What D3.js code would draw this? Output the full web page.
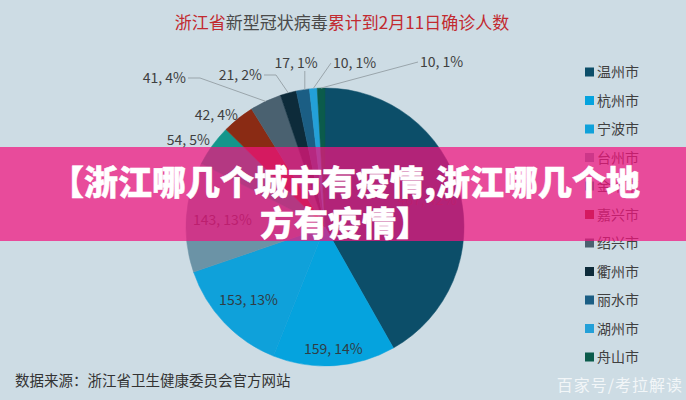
<!DOCTYPE html>
<html><head><meta charset="utf-8">
<script src="https://cdn.jsdelivr.net/npm/d3@7/dist/d3.min.js"></script>
<style>
html,body{margin:0;padding:0;background:#cddce4;}
svg{display:block;}
text{font-family:"Noto Sans CJK SC","Noto Sans",sans-serif;}
</style></head><body>
<svg id="c" width="686" height="400"></svg>
<script>
const cities   = ["温州市","杭州市","宁波市","台州市","金华市","嘉兴市","绍兴市","衢州市","丽水市","湖州市","舟山市"];
const cases    = [467,159,153,143,54,42,41,21,17,10,10];
const percents = [42,14,13,13,5,4,4,2,1,1,1];
const colors   = ["#0c4e69","#05a3de","#0fa1da","#6b93a6","#13968b","#8a2b14","#4a6170","#0d2b3a","#1b5e84","#23a0d8","#0b5b4b"];
const titleParts = [["浙江省","#c22a30"],["新型冠状病毒","#4a4a4a"],["累计到2月11日确诊人数","#c22a30"]];
const sourceText = "数据来源：浙江省卫生健康委员会官方网站";
const bannerLines = ["【浙江哪几个城市有疫情,浙江哪几个地","方有疫情】"];
const watermark = "百家号/考拉解读";

const outsideLayout = {
  "舟山市": {lx: 420, ly: 62, anchor: "start", line: "direct"},
  "湖州市": {lx: 333, ly: 63, anchor: "start", line: "direct"},
  "丽水市": {lx: 296, ly: 63, anchor: "middle", line: "vertical"},
  "衢州市": {lx: 262, ly: 75, anchor: "end", line: "elbow"},
  "绍兴市": {lx: 186, ly: 78, anchor: "end", line: "elbow"},
  "嘉兴市": {lx: 238, ly: 115, anchor: "end", line: "none"},
  "金华市": {lx: 210, ly: 140, anchor: "end", line: "none"}
};
const insideRadius = {"温州市":0.76,"杭州市":0.88,"宁波市":0.76,"台州市":0.74};

const svg = d3.select("#c");
const W = 686, H = 400;
const cx = 325, cy = 227, R = 139;

const title = svg.append("text").attr("x", 342).attr("y", 29).attr("text-anchor","middle")
  .attr("font-size", 17);
titleParts.forEach(([t,c]) => title.append("tspan").attr("fill", c).text(t));

const data = cities.map((c,i)=>({city:c, value:cases[i], pct:percents[i], color:colors[i]}));
const pie = d3.pie().sort(null).value(d=>d.value).startAngle(0).endAngle(2*Math.PI);
const arcs = pie(data);
const arc = d3.arc().innerRadius(0).outerRadius(R);

const g = svg.append("g").attr("transform", `translate(${cx},${cy})`);
g.selectAll("path").data(arcs).join("path")
  .attr("d", arc).attr("fill", d=>d.data.color)
  .attr("stroke", d=>d.data.color).attr("stroke-width", 0.5);

const fmt = d => `${d.data.value}, ${d.data.pct}%`;

arcs.filter(d=>insideRadius[d.data.city]).forEach(d=>{
  const a = (d.startAngle+d.endAngle)/2, r = R*insideRadius[d.data.city];
  g.append("text").attr("x", Math.sin(a)*r).attr("y", -Math.cos(a)*r+5)
    .attr("text-anchor","middle").attr("font-size",14).attr("fill","#2f3d46").text(fmt(d));
});

arcs.filter(d=>outsideLayout[d.data.city]).forEach(d=>{
  const L = outsideLayout[d.data.city];
  const a = (d.startAngle+d.endAngle)/2;
  const ex = cx + Math.sin(a)*R, ey = cy - Math.cos(a)*R;
  svg.append("text").attr("x", L.lx).attr("y", L.ly+5).attr("text-anchor", L.anchor)
    .attr("font-size",14).attr("fill","#404040").text(fmt(d));
  let pts = null;
  if (L.line === "direct") pts = [[L.lx-2, L.ly], [ex, ey]];
  else if (L.line === "vertical") pts = [[ex+2, L.ly+8], [ex+2, ey]];
  else if (L.line === "elbow") pts = [[L.lx+2, L.ly], [L.lx+14, L.ly], [ex, ey]];
  if (pts) svg.append("path").attr("d", d3.line()(pts)).attr("fill","none")
    .attr("stroke","#9aa5ab").attr("stroke-width",1);
});

const lg = svg.append("g");
cities.forEach((c,i)=>{
  const y = 72 + i*28.5;
  lg.append("rect").attr("x",585).attr("y",y-4.5).attr("width",9).attr("height",9).attr("fill",colors[i]);
  lg.append("text").attr("x",597).attr("y",y+5).attr("font-size",14).attr("fill","#404040").text(c);
});

svg.append("text").attr("x",15).attr("y",386).attr("font-size",14.5).attr("fill","#333").text(sourceText);

svg.append("rect").attr("x",0).attr("y",147).attr("width",W).attr("height",94)
  .attr("fill","#f3137e").attr("opacity",0.72);
bannerLines.forEach((t,i)=>{
  svg.append("text").attr("x",W/2+2).attr("y",195+i*41).attr("text-anchor","middle")
    .attr("font-size",34).attr("font-weight",900).attr("fill","#fff")
    .attr("stroke","#fff").attr("stroke-width",0.5).attr("stroke-linejoin","round").text(t);
});

svg.append("text").attr("x",683).attr("y",391).attr("text-anchor","end").attr("font-size",16)
  .attr("letter-spacing",1).attr("fill","#fff").attr("opacity",0.75).text(watermark);
</script></body></html>
